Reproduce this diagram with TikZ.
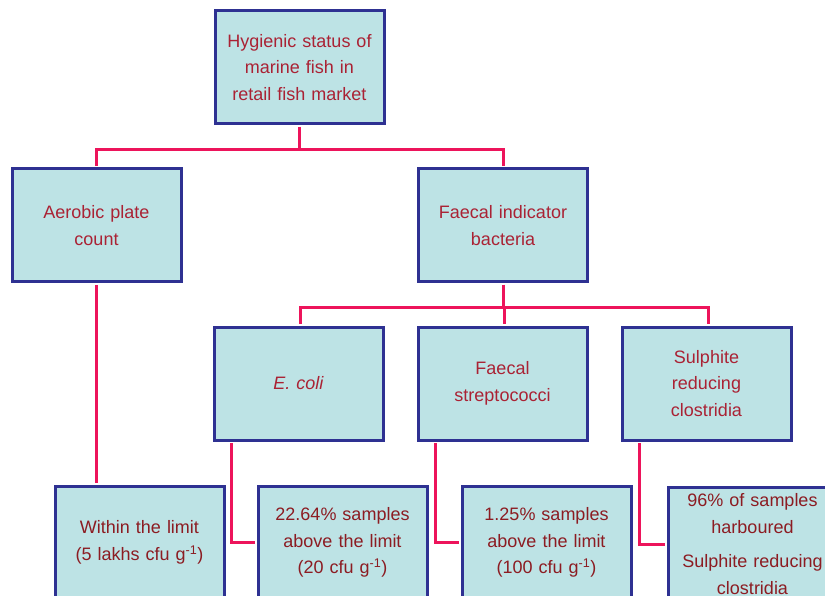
\documentclass[tikz,border=0pt]{standalone}
\usepackage{fontspec}
\setmainfont{Liberation Sans}
\usepackage{tikz}
\definecolor{boxfill}{RGB}{189,227,229}
\definecolor{boxline}{RGB}{46,49,146}
\definecolor{headred}{RGB}{170,34,52}
\definecolor{notered}{RGB}{140,28,34}
\definecolor{linkred}{RGB}{237,20,91}

\begin{document}
\begin{tikzpicture}[x=1pt, y=-1pt,
    box/.style={draw=boxline, line width=3pt, fill=boxfill,
        minimum width=169pt, minimum height=113pt, text width=160pt,
        inner sep=0pt, align=center, text=headred,
        font=\fontsize{18}{26.5}\selectfont},
    result/.style={box, text=notered},
    link/.style={draw=linkred, line width=3pt, shorten >=1.5pt, shorten <=1.5pt}]

    % Page size of the reference, boxes of the last row run off the bottom
    \useasboundingbox (0,0) rectangle (825,596);
    \clip (0,0) rectangle (825,596);

    % Top of the tree
    \node(status)[box] at (299.5,67.5) {Hygienic status of\\marine fish in\\retail fish market};

    % Second row
    \node(aerobic)[box] at (96.5,225.5) {Aerobic plate\\count};
    \node(faecal)[box] at (503,225.5) {Faecal indicator\\bacteria};

    % Third row - the indicator bacteria
    \node(ecoli)[box] at (298.5,383.5) {\textit{E. coli}};
    \node(strep)[box] at (502.5,383.5) {Faecal\\streptococci};
    \node(sulph)[box] at (706.5,383.5) {Sulphite\\reducing\\clostridia};

    % Bottom row - the findings
    \node(within)[result] at (139.5,542.5) {Within the limit\\(5 lakhs cfu g\textsuperscript{-1})};
    \node(ecoliRes)[result] at (342.5,542.5) {22.64\% samples\\above the limit\\(20 cfu g\textsuperscript{-1})};
    \node(strepRes)[result] at (546.5,542.5) {1.25\% samples\\above the limit\\(100 cfu g\textsuperscript{-1})};
    \node(sulphRes)[result] at (752.5,544) {96\% of samples\\harboured\\[8pt]Sulphite reducing\\clostridia};

    % Connectors from each parent to its children
    \draw[link] (status.south) -- ++(0,24) -| (aerobic.north);
    \draw[link] (status.south) -- ++(0,24) -| (faecal.north);
    \foreach \child in {ecoli, strep, sulph} {
        \draw[link] (faecal.south) -- ++(0,24) -| ([xshift=2pt]\child.north);
    }

    % Connectors down to the findings
    \draw[link] (aerobic.south) -- (aerobic.south |- within.north);
    \draw[link] ([xshift=19pt]ecoli.south west) |- (ecoliRes.west);
    \draw[link] ([xshift=19pt]strep.south west) |- (strepRes.west);
    \draw[link] ([xshift=19pt]sulph.south west) |- (sulphRes.west);

\end{tikzpicture}
\end{document}
